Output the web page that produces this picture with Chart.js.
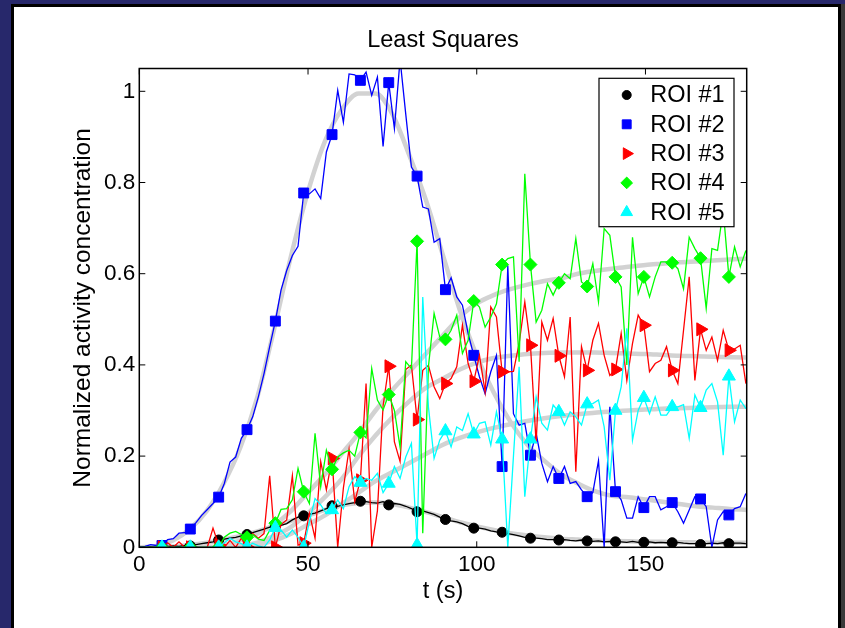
<!DOCTYPE html>
<html>
<head>
<meta charset="utf-8">
<title>Least Squares</title>
<script src="https://cdn.jsdelivr.net/npm/chart.js@4.4.0/dist/chart.umd.min.js"></script>
<style>
  html, body { margin: 0; padding: 0; background: #27286b; }
  body { width: 845px; height: 628px; overflow: hidden; position: relative; }
  #panel {
    position: absolute; left: 11px; top: 4px;
    width: 824px; height: 640px;
    background: #fff; border: 3px solid #000;
    box-shadow: 4px 0 0 #3a3a3a;
  }
  #wrap { position: absolute; left: 0; top: 0; width: 845px; height: 628px; }
</style>
</head>
<body>
<div id="panel"></div>
<div id="wrap"><canvas id="roiChart" width="845" height="628"></canvas></div>
<script>
// frame times (s)
const frameTimes = [
  0, 1.68, 3.36, 5.04, 6.72, 8.4, 10.08, 11.76, 13.44, 15.12,
  16.8, 18.48, 20.16, 21.84, 23.52, 25.2, 26.88, 28.56, 30.24, 31.92,
  33.6, 35.28, 36.96, 38.64, 40.32, 42, 43.68, 45.36, 47.04, 48.72,
  50.4, 52.08, 53.76, 55.44, 57.12, 58.8, 60.48, 62.16, 63.84, 65.52,
  67.2, 68.88, 70.56, 72.24, 73.92, 75.6, 77.28, 78.96, 80.64, 82.32,
  84, 85.68, 87.36, 89.04, 90.72, 92.4, 94.08, 95.76, 97.44, 99.12,
  100.8, 102.48, 104.16, 105.84, 107.52, 109.2, 110.88, 112.56, 114.24, 115.92,
  117.6, 119.28, 120.96, 122.64, 124.32, 126, 127.68, 129.36, 131.04, 132.72,
  134.4, 136.08, 137.76, 139.44, 141.12, 142.8, 144.48, 146.16, 147.84, 149.52,
  151.2, 152.88, 154.56, 156.24, 157.92, 159.6, 161.28, 162.96, 164.64, 166.32,
  168, 169.68, 171.36, 173.04, 174.72, 176.4, 178.08, 179.76
];

// measured curves, one value per frame
const roi1 = [
  0, 0, 0.001, 0, 0.001, 0.002, 0.003, 0.002, 0.004, 0.003,
  0.006, 0.008, 0.01, 0.012, 0.016, 0.018, 0.02, 0.022, 0.025, 0.028,
  0.032, 0.036, 0.04, 0.044, 0.046, 0.048, 0.052, 0.06, 0.066, 0.069,
  0.072, 0.075, 0.08, 0.085, 0.091, 0.09, 0.093, 0.096, 0.098, 0.101,
  0.1, 0.098, 0.097, 0.1, 0.093, 0.096, 0.094, 0.09, 0.085, 0.078,
  0.08, 0.076, 0.072, 0.066, 0.061, 0.058, 0.056, 0.052, 0.046, 0.042,
  0.042, 0.04, 0.036, 0.034, 0.033, 0.03, 0.028, 0.025, 0.022, 0.02,
  0.02, 0.019, 0.017, 0.017, 0.016, 0.017, 0.015, 0.014, 0.016, 0.014,
  0.013, 0.014, 0.012, 0.013, 0.012, 0.012, 0.011, 0.013, 0.011, 0.011,
  0.012, 0.01, 0.011, 0.01, 0.01, 0.011, 0.009, 0.008, 0.008, 0.006,
  0.008, 0.009, 0.008, 0.01, 0.008, 0.009, 0.009, 0.008
];
const roi2 = [
  0, 0.002, 0.006, 0.004, 0.004, 0.017, 0.019, 0.031, 0.032, 0.04,
  0.054, 0.07, 0.083, 0.096, 0.11, 0.14, 0.187, 0.198, 0.239, 0.258,
  0.286, 0.33, 0.381, 0.44, 0.496, 0.564, 0.607, 0.64, 0.66, 0.777,
  0.775, 0.786, 0.765, 0.867, 0.905, 1.002, 0.932, 1.038, 1.036, 1.024,
  1.042, 0.991, 1.031, 0.879, 1.019, 0.918, 1.07, 0.95, 0.834, 0.814,
  0.746, 0.742, 0.669, 0.677, 0.565, 0.591, 0.549, 0.531, 0.469, 0.421,
  0.374, 0.337, 0.385, 0.421, 0.177, 0.618, 0.293, 0.268, 0.272, 0.202,
  0.25, 0.184, 0.144, 0.177, 0.151, 0.177, 0.14, 0.144, 0.126, 0.111,
  0.12, 0.19, 0, 0.308, 0.122, 0.104, 0.064, 0.064, 0.111, 0.087,
  0.111, 0.111, 0.082, 0.089, 0.098, 0.078, 0.053, 0.082, 0.111, 0.106,
  0.089, 0, 0.06, 0.078, 0.071, 0.085, 0.089, 0.118
];
const roi3 = [
  0, 0, 0, 0, 0, 0.01, 0, 0.012, 0, 0,
  0, 0, 0, 0.042, 0.005, 0, 0.015, 0, 0.02, 0,
  0.03, 0.02, 0.03, 0.157, 0, 0.05, 0.06, 0.157, 0.005, 0.009,
  0.075, 0.02, 0.188, 0.126, 0.195, 0, 0.13, 0.215, 0.1, 0.147,
  0.359, 0, 0.08, 0.31, 0.397, 0.231, 0.188, 0.39, 0.4, 0.28,
  0.388, 0.399, 0.352, 0.326, 0.359, 0.37, 0.396, 0.487, 0.403, 0.364,
  0.421, 0.341, 0.527, 0.505, 0.385, 0.385, 0.386, 0.447, 0.538, 0.443,
  0.228, 0.494, 0.454, 0.502, 0.42, 0.374, 0.505, 0.166, 0.44, 0.388,
  0.454, 0.491, 0.421, 0.377, 0.39, 0.469, 0.366, 0.447, 0.509, 0.487,
  0.385, 0.403, 0.41, 0.44, 0.388, 0.359, 0.476, 0.593, 0.366, 0.478,
  0.432, 0.461, 0.41, 0.476, 0.432, 0.435, 0.443, 0.359
];
const roi4 = [
  0, 0, 0, 0, 0, 0, 0, 0, 0, 0,
  0, 0, 0, 0, 0, 0.022, 0.031, 0.035, 0.028, 0.022,
  0.028, 0.018, 0.015, 0.037, 0.053, 0.083, 0.085, 0.104, 0.173, 0.122,
  0.096, 0.25, 0.133, 0.213, 0.171, 0.198, 0.207, 0.213, 0.2, 0.252,
  0.24, 0.392, 0.323, 0.301, 0.335, 0.3, 0.22, 0.407, 0.392, 0.671,
  0.031, 0.396, 0.513, 0.461, 0.456, 0.476, 0.509, 0.425, 0.454, 0.54,
  0.527, 0.483, 0.505, 0.534, 0.62, 0.633, 0.637, 0.407, 0.819, 0.62,
  0.494, 0.52, 0.578, 0.553, 0.58, 0.6, 0.589, 0.677, 0.582, 0.572,
  0.622, 0.538, 0.699, 0.684, 0.593, 0.571, 0.4, 0.68, 0.556, 0.593,
  0.549, 0.593, 0.626, 0.626, 0.624, 0.611, 0.567, 0.68, 0.655, 0.634,
  0.524, 0.655, 0.651, 0.74, 0.593, 0.659, 0.615, 0.651
];
const roi5 = [
  0, 0, 0, 0, 0, 0, 0, 0, 0, 0,
  0, 0, 0, 0, 0, 0.01, 0.02, 0.012, 0.008, 0,
  0.009, 0.003, 0, 0.016, 0.043, 0.038, 0.022, 0.038, 0.022, 0,
  0.056, 0.107, 0.093, 0.074, 0.082, 0.104, 0.085, 0.133, 0.155, 0.142,
  0.151, 0.147, 0.162, 0.12, 0.14, 0.177, 0.151, 0.198, 0.228, 0.005,
  0.549, 0.308, 0.195, 0.235, 0.255, 0.22, 0.264, 0.256, 0.293, 0.248,
  0.272, 0.275, 0.224, 0.297, 0.237, 0, 0.2, 0.396, 0.111, 0.237,
  0.33, 0.272, 0.257, 0.312, 0.297, 0.268, 0.297, 0.286, 0.268, 0.314,
  0.315, 0.323, 0.264, 0.147, 0.3, 0.352, 0.48, 0.235, 0.3, 0.328,
  0.293, 0.33, 0.29, 0.29, 0.308, 0.308, 0.313, 0.239, 0.334, 0.306,
  0.345, 0.359, 0.319, 0.202, 0.375, 0.275, 0.323, 0.304
];

// least-squares model curves
const fitTimes = [
  0, 5, 10, 15, 20, 25, 30, 35, 40, 45, 50, 55, 60, 65, 70, 75, 80, 85, 90,
  95, 100, 105, 110, 115, 120, 125, 130, 135, 140, 145, 150, 155, 160, 165, 170, 175, 180
];
const fit1 = [
  0, 0, 0.002, 0.005, 0.01, 0.017, 0.025, 0.035, 0.047, 0.058, 0.07, 0.082, 0.092, 0.097, 0.098, 0.095, 0.087, 0.077, 0.066,
  0.055, 0.046, 0.038, 0.031, 0.026, 0.022, 0.019, 0.017, 0.015, 0.014, 0.013, 0.012, 0.012, 0.011, 0.011, 0.01, 0.01, 0.01
];
const fit2 = [
  0, 0.003, 0.015, 0.04, 0.08, 0.14, 0.22, 0.33, 0.48, 0.64, 0.78, 0.89, 0.96, 0.995, 0.995, 0.95, 0.86, 0.76, 0.64,
  0.52, 0.42, 0.34, 0.275, 0.225, 0.19, 0.16, 0.14, 0.123, 0.113, 0.11, 0.105, 0.1, 0.095, 0.09, 0.087, 0.084, 0.082
];
const fit3 = [
  0, 0, 0, 0, 0, 0, 0.003, 0.01, 0.025, 0.045, 0.075, 0.11, 0.15, 0.2, 0.245, 0.285, 0.32, 0.35, 0.37,
  0.39, 0.405, 0.415, 0.42, 0.424, 0.426, 0.427, 0.427, 0.427, 0.426, 0.425, 0.424, 0.422, 0.42, 0.419, 0.418, 0.417, 0.416
];
const fit4 = [
  0, 0, 0, 0, 0, 0.005, 0.015, 0.03, 0.05, 0.08, 0.12, 0.16, 0.205, 0.25, 0.3, 0.345, 0.385, 0.425, 0.465,
  0.505, 0.535, 0.553, 0.566, 0.576, 0.584, 0.59, 0.6, 0.606, 0.611, 0.615, 0.619, 0.622, 0.625, 0.627, 0.629, 0.631, 0.633
];
const fit5 = [
  0, 0, 0, 0, 0, 0, 0, 0.005, 0.015, 0.03, 0.05, 0.07, 0.095, 0.12, 0.145, 0.165, 0.185, 0.205, 0.225,
  0.24, 0.252, 0.262, 0.27, 0.277, 0.283, 0.288, 0.292, 0.295, 0.298, 0.3, 0.302, 0.304, 0.305, 0.306, 0.307, 0.308, 0.308
];

const xTicks = [0, 50, 100, 150];
const yTicks = [0, 0.2, 0.4, 0.6, 0.8, 1];

const FONT = "'Liberation Sans', Arial, Helvetica, sans-serif";

function pairs(ts, vs) {
  return ts.map((t, i) => ({ x: t, y: vs[i] }));
}

// markers on every 5th frame only
function everyFifth(r) {
  return ctx => (ctx.dataIndex % 5 === 4 ? r : 0);
}

function roiSet(label, values, color, style, radius, rotation, order) {
  return {
    label,
    data: pairs(frameTimes, values),
    borderColor: color,
    backgroundColor: color,
    borderWidth: 1.3,
    pointStyle: style,
    pointRotation: rotation,
    pointRadius: everyFifth(radius),
    pointBorderWidth: 1,
    legendRadius: radius * 0.9,
    order
  };
}

function fitSet(values) {
  return {
    label: 'fit',
    isFit: true,
    data: pairs(fitTimes, values),
    borderColor: '#d2d2d2',
    borderWidth: 4.5,
    pointRadius: 0,
    cubicInterpolationMode: 'monotone',
    order: 10
  };
}

// box round the axes, inward tick marks and the legend inside the plot
const axesBox = {
  id: 'axesBox',
  afterDraw(chart) {
    const { ctx, chartArea: a, scales: { x, y } } = chart;
    ctx.save();
    ctx.strokeStyle = '#000';
    ctx.lineWidth = 1.5;
    ctx.strokeRect(a.left, a.top, a.right - a.left, a.bottom - a.top);
    ctx.beginPath();
    const tl = 6;
    xTicks.forEach(v => {
      const px = x.getPixelForValue(v);
      ctx.moveTo(px, a.bottom); ctx.lineTo(px, a.bottom - tl);
      ctx.moveTo(px, a.top); ctx.lineTo(px, a.top + tl);
    });
    yTicks.forEach(v => {
      const py = y.getPixelForValue(v);
      ctx.moveTo(a.left, py); ctx.lineTo(a.left + tl, py);
      ctx.moveTo(a.right, py); ctx.lineTo(a.right - tl, py);
    });
    ctx.lineWidth = 1;
    ctx.stroke();

    // legend
    const bx = a.right - 147.7, by = a.top + 9.8, bw = 135, bh = 148.4;
    ctx.fillStyle = '#fff';
    ctx.fillRect(bx, by, bw, bh);
    ctx.lineWidth = 1.2;
    ctx.strokeRect(bx, by, bw, bh);
    ctx.font = '23.5px ' + FONT;
    ctx.textBaseline = 'middle';
    let row = 0;
    chart.data.datasets.forEach(ds => {
      if (ds.isFit) return;
      const cy = by + 16.7 + row * 29.3;
      ctx.fillStyle = ds.backgroundColor;
      ctx.strokeStyle = ds.borderColor;
      ctx.lineWidth = 1;
      Chart.helpers.drawPoint(ctx, {
        pointStyle: ds.pointStyle,
        rotation: ds.pointRotation,
        radius: ds.legendRadius,
        borderWidth: 1
      }, bx + 27.7, cy);
      ctx.fillStyle = '#000';
      ctx.fillText(ds.label, bx + 51.2, cy + 1);
      row++;
    });
    ctx.restore();
  }
};

new Chart(document.getElementById('roiChart'), {
  type: 'line',
  data: {
    datasets: [
      roiSet('ROI #1', roi1, '#000000', 'circle', 5, 0, 5),
      roiSet('ROI #2', roi2, '#0000ff', 'rect', 7, 0, 4),
      roiSet('ROI #3', roi3, '#ff0000', 'triangle', 7.5, 90, 3),
      roiSet('ROI #4', roi4, '#00ff00', 'rectRot', 6.5, 0, 2),
      roiSet('ROI #5', roi5, '#00ffff', 'triangle', 7.5, 0, 1),
      fitSet(fit1), fitSet(fit2), fitSet(fit3), fitSet(fit4), fitSet(fit5)
    ]
  },
  options: {
    responsive: false,
    devicePixelRatio: 1,
    animation: false,
    layout: { padding: { left: 0, top: 0, right: 98.3, bottom: 0 } },
    plugins: {
      legend: { display: false },
      tooltip: { enabled: false },
      title: {
        display: true,
        fullSize: false,
        text: 'Least Squares',
        color: '#000',
        font: { family: FONT, size: 23.5, weight: 'normal' },
        padding: { top: 26.9, bottom: 13.4 }
      }
    },
    scales: {
      x: {
        type: 'linear',
        min: 0,
        max: 180,
        grid: { display: false, drawTicks: false },
        border: { display: false },
        ticks: { color: '#000', font: { family: FONT, size: 22.5 }, padding: 3.5, maxRotation: 0 },
        afterBuildTicks: s => { s.ticks = xTicks.map(v => ({ value: v })); },
        afterFit: s => { s.height = 80.7; },
        title: {
          display: true, text: 't (s)', color: '#000',
          font: { family: FONT, size: 23.5 }, padding: { top: 0, bottom: 21.9 }
        }
      },
      y: {
        min: 0,
        max: 1.05,
        grid: { display: false, drawTicks: false },
        border: { display: false },
        ticks: {
          color: '#000', font: { family: FONT, size: 22.5 }, padding: 4,
          callback: v => String(Number(v.toFixed(2)))
        },
        afterBuildTicks: s => { s.ticks = yTicks.map(v => ({ value: v })); },
        afterFit: s => { s.width = 139.3; },
        title: {
          display: true, text: 'Normalized activity concentration', color: '#000',
          font: { family: FONT, size: 24.5 }, padding: { top: 68.3, bottom: 0 }
        }
      }
    }
  },
  plugins: [axesBox]
});
</script>
</body>
</html>
